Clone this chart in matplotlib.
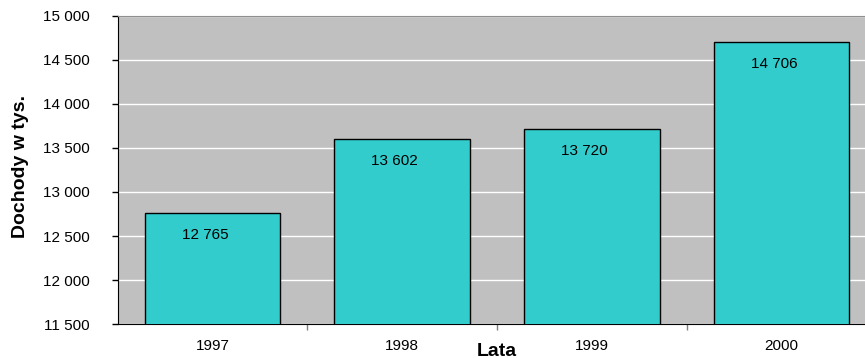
import matplotlib
matplotlib.use("Agg")
import matplotlib.pyplot as plt
from matplotlib.ticker import FixedLocator

plt.rcParams['font.family'] = ['Liberation Sans', 'DejaVu Sans']

years = ["1997", "1998", "1999", "2000"]
values = [12765, 13602, 13720, 14706]
yticks = [11500, 12000, 12500, 13000, 13500, 14000, 14500, 15000]

def fmt(v):
    return f"{v:,}".replace(",", " ")

W, H = 865, 358
fig = plt.figure(figsize=(W / 100, H / 100), dpi=100)
left, right, top, bottom = 117.7, 876.5, 16, 324
ax = fig.add_axes([left / W, 1 - bottom / H, (right - left) / W, (bottom - top) / H])
ax.set_facecolor("#C0C0C0")

x = list(range(len(years)))
ax.bar(x, values, width=0.715, color="#33CCCC", edgecolor="black", linewidth=1.0, zorder=3)

for xi, v in zip(x, values):
    ax.annotate(fmt(v), xy=(xi, v), xytext=(-5.5, -16), textcoords="offset points",
                ha="center", va="center", fontsize=11, zorder=4)

ax.set_xlim(-0.5, 3.5)
ax.set_ylim(11500, 15000)
ax.set_yticks(yticks)
ax.set_yticklabels([fmt(t) for t in yticks], fontsize=11)
ax.yaxis.grid(True, color="white", linewidth=1.0, zorder=1)
ax.set_axisbelow(True)

ax.set_xticks(x)
ax.set_xticklabels(years, fontsize=11)
ax.xaxis.set_minor_locator(FixedLocator([0.5, 1.5, 2.5]))
ax.tick_params(axis="x", which="major", length=0, pad=11)
ax.tick_params(axis="x", which="minor", length=4, width=1, color="#808080")
ax.tick_params(axis="y", length=4, width=1, pad=16)

ax.spines["left"].set_color("black")
ax.spines["bottom"].set_color("black")
ax.spines["top"].set_color("#909090")
ax.spines["right"].set_visible(False)

fig.text(21 / W, 1 - 167 / H, "Dochody w tys.", rotation=90, fontsize=14,
         fontweight="bold", ha="center", va="center")
fig.text(497 / W, 1 - 351 / H, "Lata", fontsize=14, fontweight="bold",
         ha="center", va="center")

fig.savefig("out.png", dpi=100)
